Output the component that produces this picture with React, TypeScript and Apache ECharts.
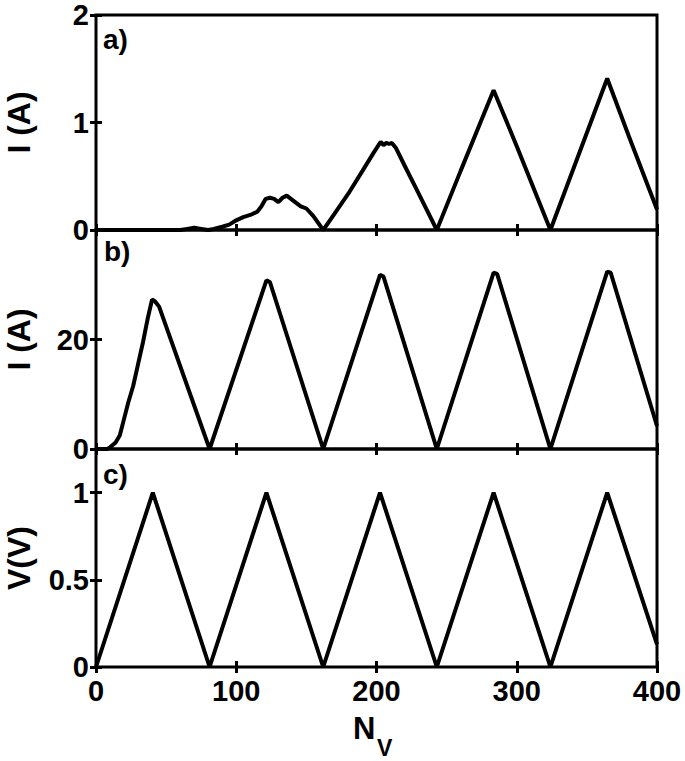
import React, { useEffect, useRef } from "react";
import * as echarts from "echarts";

// Panel a) current I (A) vs N_V
const aN = [0, 60, 65, 70, 75, 80, 84, 90, 95, 100, 105, 110, 115, 118, 121, 124, 127, 130, 133, 136, 139, 142, 146, 150, 155, 162, 170, 180, 190, 198, 201, 203, 205, 207, 209, 211, 214, 220, 230, 243, 260, 283.5, 300, 324, 345, 364.5, 380, 400];
const aI = [0, 0, 0.01, 0.02, 0.01, 0, 0.01, 0.03, 0.05, 0.09, 0.12, 0.14, 0.17, 0.22, 0.29, 0.3, 0.29, 0.26, 0.3, 0.32, 0.29, 0.26, 0.22, 0.2, 0.13, 0, 0.15, 0.34, 0.55, 0.72, 0.78, 0.82, 0.79, 0.81, 0.8, 0.81, 0.76, 0.6, 0.34, 0, 0.55, 1.3, 0.78, 0, 0.73, 1.41, 0.87, 0.19];

// Panel b) current I (A) vs N_V
const bN = [0, 8, 10, 14, 17, 19.5, 23, 26.5, 30, 33.5, 37, 40, 42, 45, 81, 121.5, 124, 162, 202.5, 205, 243, 283.5, 286, 324, 364.5, 367, 400];
const bI = [0, 0, 0.3, 1.2, 2.5, 5, 8.5, 11.5, 15.5, 19.5, 24, 27.3, 27, 26, 0, 30.8, 30.5, 0, 31.8, 31.5, 0, 32.2, 32, 0, 32.4, 32.2, 4.2];

// Panel c) voltage V (V) vs N_V
const cN = [0, 40.5, 81, 121.5, 162, 202.5, 243, 283.5, 324, 364.5, 400];
const cV = [0, 1, 0, 1, 0, 1, 0, 1, 0, 1, 0.13];

// Tick labels
const xTicks = [0, 100, 200, 300, 400];
const aTicks = [0, 1, 2];
const bTicks = [0, 20];
const cTicks = [0, 0.5, 1];

const FONT = "'Liberation Sans', Arial, Helvetica, sans-serif";

export default function App() {
  const ref = useRef<HTMLDivElement>(null);

  useEffect(() => {
    if (!ref.current) return;
    const chart = echarts.init(ref.current, undefined, { renderer: "svg" });

    const L = 96;
    const R = 685 - 657;
    const grids = [
      { left: L, right: R, top: 15, height: 215 },
      { left: L, right: R, top: 230, height: 219 },
      { left: L, right: R, top: 449, height: 218 },
    ].map((g) => ({
      ...g, show: true, borderColor: "#000", borderWidth: 3, backgroundColor: "transparent",
      containLabel: false, outerBoundsMode: "none",
    }));

    const tick = { show: true, inside: true, length: 6, lineStyle: { color: "#000", width: 3 } };
    const labelStyle = { color: "#000", fontFamily: FONT, fontWeight: "bold" as const, fontSize: 29 };

    const xAxes: any[] = [];
    const yAxes: any[] = [];
    const yCfg = [
      { max: 2, interval: 1, ticks: aTicks, name: "I (A)" },
      { max: 40, interval: 20, ticks: bTicks, name: "I (A)" },
      { max: 1.25, interval: 0.5, ticks: cTicks, name: "V(V)" },
    ];
    for (let i = 0; i < 3; i++) {
      xAxes.push({
        type: "value", gridIndex: i, position: "bottom", min: 0, max: 400, interval: 100,
        axisLine: { show: false }, splitLine: { show: false }, axisTick: tick,
        axisLabel: i === 2
          ? { ...labelStyle, margin: 9, formatter: (v: number) => (xTicks.includes(v) ? String(v) : "") }
          : { show: false },
      });
      xAxes.push({
        type: "value", gridIndex: i, position: "top", min: 0, max: 400, interval: 100,
        axisLine: { show: false }, splitLine: { show: false }, axisTick: tick, axisLabel: { show: false },
      });
      const c = yCfg[i];
      yAxes.push({
        type: "value", gridIndex: i, position: "left", min: 0, max: c.max, interval: c.interval,
        axisLine: { show: false }, splitLine: { show: false }, axisTick: tick,
        axisLabel: { ...labelStyle, margin: 7, formatter: (v: number) => (c.ticks.some((t) => Math.abs(t - v) < 1e-9) ? String(v) : "") },
        name: c.name, nameLocation: "middle", nameGap: 61, nameRotate: 90,
        nameTextStyle: { color: "#000", fontFamily: FONT, fontWeight: "bold", fontSize: 32 },
      });
      yAxes.push({
        type: "value", gridIndex: i, position: "right", min: 0, max: c.max, interval: c.interval,
        axisLine: { show: false }, splitLine: { show: false }, axisTick: tick, axisLabel: { show: false },
      });
    }

    const mk = (xs: number[], ys: number[]) => xs.map((x, k) => [x, ys[k]]);
    const lineStyle = { color: "#000", width: 4 };
    const series = [mk(aN, aI), mk(bN, bI), mk(cN, cV)].map((d, i) => ({
      type: "line", data: d, xAxisIndex: i * 2, yAxisIndex: i * 2,
      showSymbol: false, symbol: "none", lineStyle, itemStyle: { color: "#000" },
    }));

    const panelLabel = (t: string, x: number, y: number) => ({
      type: "text", x, y,
      style: { text: t, fill: "#000", font: `bold 28px ${FONT}`, textVerticalAlign: "top", textAlign: "left" },
    });

    chart.setOption({
      animation: false,
      backgroundColor: "#fff",
      grid: grids,
      xAxis: xAxes,
      yAxis: yAxes,
      series,
      graphic: [
        panelLabel("a)", 103, 25),
        panelLabel("b)", 104, 237),
        panelLabel("c)", 103, 460),
        { type: "text", x: 353, y: 713, style: { text: "N", fill: "#000", font: `bold 31px ${FONT}`, textVerticalAlign: "top" } },
        { type: "text", x: 377, y: 736, style: { text: "V", fill: "#000", font: `bold 23px ${FONT}`, textVerticalAlign: "top" } },
      ],
    });

    return () => chart.dispose();
  }, []);

  return <div ref={ref} style={{ position: "fixed", left: 0, top: 0, width: 685, height: 761, background: "#fff" }} />;
}
